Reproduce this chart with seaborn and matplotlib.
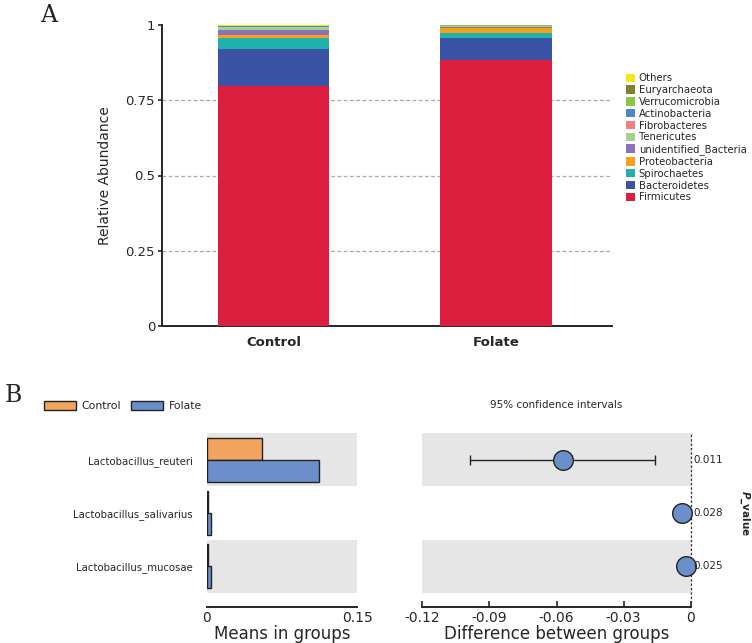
import numpy as np
import pandas as pd
import matplotlib
matplotlib.use('Agg')
import matplotlib.pyplot as plt
from matplotlib.patches import Patch
import seaborn as sns

# Panel A data: phylum relative abundance (stack order bottom -> top)
groups = ['Control', 'Folate']
phyla = ['Firmicutes', 'Bacteroidetes', 'Spirochaetes', 'Proteobacteria',
         'unidentified_Bacteria', 'Tenericutes', 'Fibrobacteres',
         'Actinobacteria', 'Verrucomicrobia', 'Euryarchaeota', 'Others']
control_abund = [0.796, 0.125, 0.036, 0.011, 0.015, 0.011, 0.001, 0.0005, 0.0015, 0.001, 0.002]
folate_abund = [0.885, 0.072, 0.015, 0.019, 0.003, 0.002, 0.001, 0.0005, 0.001, 0.000, 0.0015]
phylum_colors = ['#DC1E3F', '#3A53A4', '#20B2AA', '#F7A11A', '#8B72B8', '#A8D08D',
                 '#F08080', '#4A86C8', '#8CC63F', '#7F7F2F', '#F5E51B']
a_yticks = [0, 0.25, 0.5, 0.75, 1]
a_yticklabels = ['0', '0.25', '0.5', '0.75', '1']

# Panel B data: species level differences
species = ['Lactobacillus_reuteri', 'Lactobacillus_salivarius', 'Lactobacillus_mucosae']
control_mean = [0.0551, 0.001, 0.0015]
folate_mean = [0.1122, 0.0046, 0.004]
diff_est = [-0.0572, -0.0039, -0.0022]
ci_low = [-0.0985, -0.0060, -0.0043]
ci_high = [-0.0158, -0.0018, -0.0002]
p_values = ['0.011', '0.028', '0.025']
means_ticks = [0, 0.15]
diff_ticks = [-0.12, -0.09, -0.06, -0.03, 0]

sns.set_style('white')
plt.rcParams['font.family'] = ['DejaVu Sans']

fig = plt.figure(figsize=(7.52, 6.43), dpi=100)

# ---------------- Panel A ----------------
axA = fig.add_axes([162 / 752, 1 - 326 / 643, 450 / 752, 301 / 643])
dfA = pd.DataFrame({'group': groups})
for i, p in enumerate(phyla):
    dfA[p] = [control_abund[i], folate_abund[i]]
cum = dfA[phyla].cumsum(axis=1)
for p, c in reversed(list(zip(phyla, phylum_colors))):
    sns.barplot(x=dfA['group'], y=cum[p], color=c, width=0.5,
                saturation=1, ax=axA, linewidth=0, zorder=3)
axA.set_xlim(-0.5, 1.52)
axA.set_ylim(0, 1)
axA.set_yticks(a_yticks)
axA.set_yticklabels(a_yticklabels, fontsize=9.5)
for y in a_yticks[1:4]:
    axA.axhline(y, color='#aaaaaa', linestyle=(0, (3, 2)), linewidth=0.9, zorder=1)
axA.set_xlabel('')
axA.set_ylabel('Relative Abundance', fontsize=10, labelpad=10)
axA.tick_params(axis='y', length=3, width=1.2, direction='out', left=True, pad=2)
axA.tick_params(axis='x', length=0, pad=7)
for lbl in axA.get_xticklabels():
    lbl.set_fontweight('bold')
    lbl.set_fontsize(9.5)
sns.despine(ax=axA)
axA.spines['left'].set_linewidth(1.4)
axA.spines['bottom'].set_linewidth(1.4)

handles = [Patch(facecolor=c, edgecolor='none') for c in phylum_colors]
axA.legend(handles[::-1], phyla[::-1], loc='upper left', bbox_to_anchor=(1.01, 0.87),
           frameon=False, fontsize=7.3, handlelength=0.9, handleheight=0.9,
           handletextpad=0.4, labelspacing=0.18)

fig.text(40 / 752, 1 - 15 / 643, 'A', fontsize=17, family='DejaVu Serif', va='center')
fig.text(5 / 752, 1 - 395 / 643, 'B', fontsize=17, family='DejaVu Serif', va='center')

# ---------------- Panel B left ----------------
bot = 1 - 593 / 643
hgt = 160 / 643
axL = fig.add_axes([206.7 / 752, bot, 150.6 / 752, hgt])
dfB = pd.DataFrame({
    'species': species * 2,
    'group': ['Control'] * 3 + ['Folate'] * 3,
    'mean': control_mean + folate_mean,
})
for k in (0, 2):
    axL.axhspan(k - 0.5, k + 0.5, color='#e6e6e6', zorder=0, linewidth=0)
sns.barplot(data=dfB, y='species', x='mean', hue='group', orient='h',
            palette={'Control': '#F2A35E', 'Folate': '#6A8FCB'}, saturation=1,
            width=0.82, edgecolor='#222222', linewidth=1.0, ax=axL, legend=False,
            zorder=2)
axL.set_xlim(0, 0.15)
axL.set_ylim(2.5, -0.5)
axL.set_xticks(means_ticks)
axL.set_xticklabels(['0', '0.15'], fontsize=7.5)
axL.set_ylabel('')
axL.set_xlabel('Means in groups', fontsize=12, labelpad=0)
axL.tick_params(axis='y', length=0, labelsize=7.3, pad=10)
axL.tick_params(axis='x', length=4, width=1.2, direction='in', pad=3)
for s in ('top', 'right', 'left'):
    axL.spines[s].set_visible(False)
axL.spines['bottom'].set_position(('outward', 10))
axL.spines['bottom'].set_linewidth(1.4)

legB = [Patch(facecolor='#F2A35E', edgecolor='#222222', label='Control'),
        Patch(facecolor='#6A8FCB', edgecolor='#222222', label='Folate')]
fig.legend(handles=legB, loc='center left', bbox_to_anchor=(34 / 752, 1 - 406 / 643),
           ncol=2, frameon=False, fontsize=7.8, handlelength=3.0, handleheight=1.0,
           columnspacing=0.9, handletextpad=0.5)

# ---------------- Panel B right ----------------
axR = fig.add_axes([422.3 / 752, bot, 268.4 / 752, hgt])
for k in (0, 2):
    axR.axhspan(k - 0.5, k + 0.5, color='#e6e6e6', zorder=0, linewidth=0)
ypos = np.arange(len(species))
dfD = pd.DataFrame({'species': species, 'y': ypos, 'diff': diff_est})
axR.errorbar(diff_est, ypos,
             xerr=[np.array(diff_est) - np.array(ci_low), np.array(ci_high) - np.array(diff_est)],
             fmt='none', ecolor='#222222', elinewidth=1.0, capsize=3.5, capthick=1.0, zorder=2)
sns.scatterplot(data=dfD, x='diff', y='y', s=200, color='#6A8FCB', edgecolor='#222222',
                linewidth=1.0, ax=axR, zorder=3, clip_on=False)
axR.axvline(0, color='#333333', linestyle=(0, (2, 1.5)), linewidth=0.9, zorder=1,
            ymin=-0.06, ymax=1, clip_on=False)
axR.set_xlim(-0.12, 0)
axR.set_ylim(2.5, -0.5)
axR.set_yticks([])
axR.set_ylabel('')
axR.set_xticks(diff_ticks)
axR.set_xticklabels(['-0.12', '-0.09', '-0.06', '-0.03', '0'], fontsize=7.5)
axR.set_xlabel('Difference between groups', fontsize=12, labelpad=0)
axR.tick_params(axis='x', length=4, width=1.2, direction='in', pad=3, bottom=True)
for s in ('top', 'right', 'left'):
    axR.spines[s].set_visible(False)
axR.spines['bottom'].set_position(('outward', 10))
axR.spines['bottom'].set_linewidth(1.4)
axR.set_title('95% confidence intervals', fontsize=7.5, pad=18)
for yy, pv in zip(ypos, p_values):
    axR.text(1.01, yy, pv, transform=axR.get_yaxis_transform(), fontsize=7.5,
             va='center', ha='left')
axR.text(1.2, 0.5, r'$\bfit{P}$' + '_value', transform=axR.transAxes, rotation=270,
         fontsize=7.5, fontweight='bold', va='center', ha='center')

fig.savefig('out.png', dpi=100)
